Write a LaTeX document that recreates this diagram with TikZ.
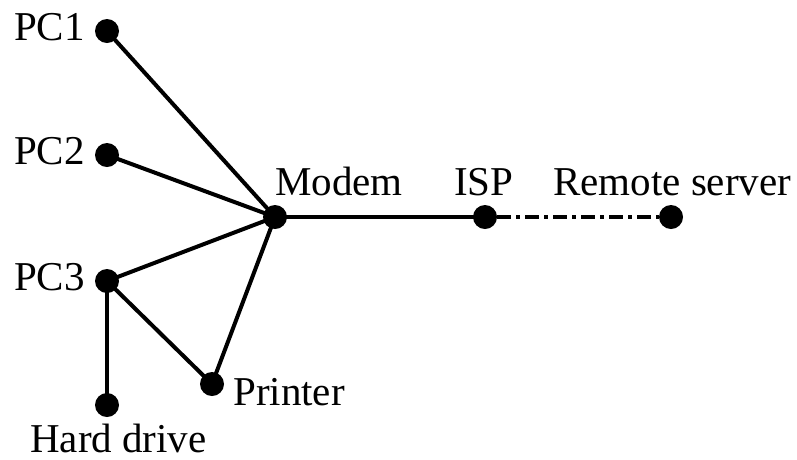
\documentclass[tikz,border=0pt]{standalone}
\usepackage{fontspec}
\setmainfont{Liberation Serif}
\begin{document}
\begin{tikzpicture}[x=1pt,y=-1pt,
  dotnode/.style={circle,fill=black,inner sep=0pt,minimum size=24pt},
  lbl/.style={inner sep=0pt,font=\fontsize{41}{45}\selectfont},
  link/.style={line width=4pt}]
\useasboundingbox (0,0) rectangle (797,459);
\node[dotnode] (pc1) at (107,31) {};
\node[dotnode] (pc2) at (107,155) {};
\node[dotnode] (pc3) at (107,281) {};
\node[dotnode] (modem) at (275,217) {};
\node[dotnode] (isp) at (485,217) {};
\node[dotnode] (remote) at (671,217) {};
\node[dotnode] (printer) at (212,384) {};
\node[dotnode] (hd) at (107,405) {};
\node[lbl,anchor=base east] (lpc1) at (85,40) {PC1};
\node[lbl,anchor=base east] (lpc2) at (85,164) {PC2};
\node[lbl,anchor=base east] (lpc3) at (85,290) {PC3};
\node[lbl,anchor=base west] (lmodem) at (275,195) {Modem};
\node[lbl,anchor=base west] (lisp) at (454,195) {ISP};
\node[lbl,anchor=base west] (lremote) at (553,195) {Remote server};
\node[lbl,anchor=base west] (lprinter) at (233,405) {Printer};
\node[lbl,anchor=base west] (lhd) at (30,452) {Hard drive};
\draw[link] (pc1.center) -- (modem.center);
\draw[link] (pc2.center) -- (modem.center);
\draw[link] (pc3.center) -- (modem.center);
\draw[link] (printer.center) -- (modem.center);
\draw[link] (pc3.center) -- (printer.center);
\draw[link] (pc3.center) -- (hd.center);
\draw[link] (modem.center) -- (isp.center);
\draw[link,dash pattern=on 14pt off 5pt on 4pt off 5pt] (isp) -- (remote);
\end{tikzpicture}
\end{document}
